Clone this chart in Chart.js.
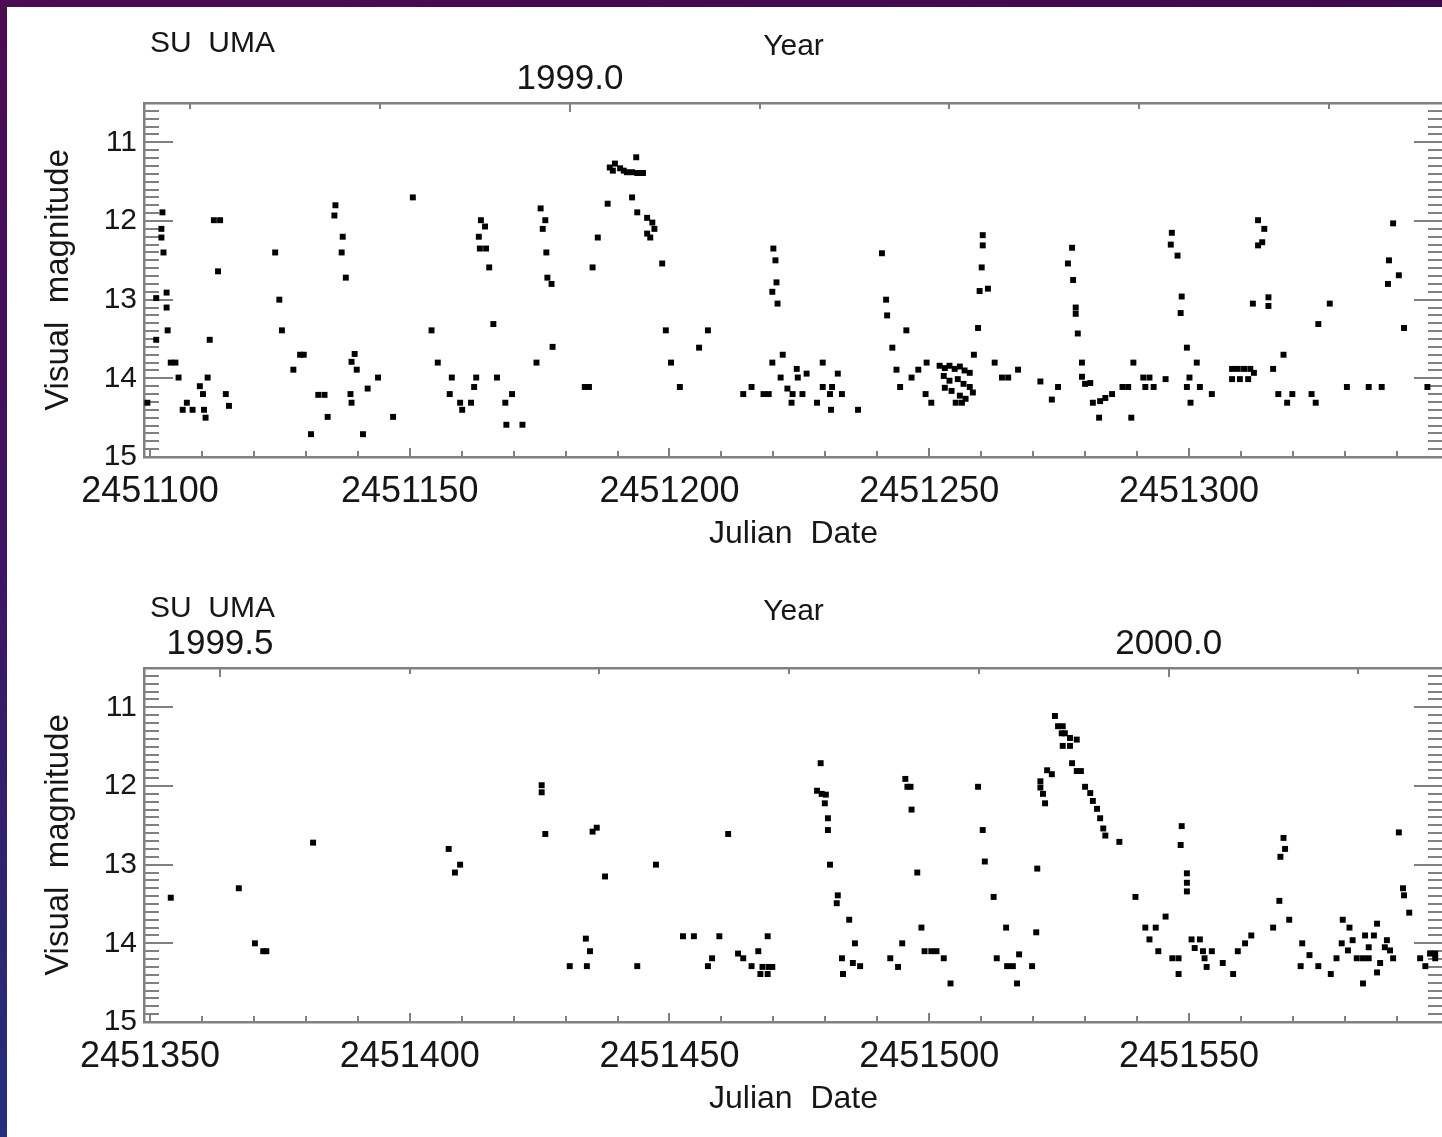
<!DOCTYPE html>
<html>
<head>
<meta charset="utf-8">
<title>SU UMA light curve</title>
<script src="https://cdn.jsdelivr.net/npm/chart.js@4.4.1/dist/chart.umd.min.js"></script>
<style>
  html, body { margin: 0; padding: 0; overflow: hidden; background: #fff; }
  body { width: 1442px; height: 1137px; position: relative; }
  canvas { position: absolute; left: 0; }
  #topPanel { top: 0; }
  #bottomPanel { top: 565px; }
  .band-top { position: absolute; left: 0; top: 0; width: 1442px; height: 7px;
    background: linear-gradient(90deg, #4c0b53, #440b50 60%, #3d0a4d); }
  .band-left { position: absolute; left: 0; top: 0; width: 7px; height: 1137px;
    background: linear-gradient(180deg, #4c0b53, #3d1462 50%, #23307c); }
</style>
</head>
<body>
<canvas id="topPanel" width="1450" height="560"></canvas>
<canvas id="bottomPanel" width="1450" height="560"></canvas>
<div class="band-top"></div>
<div class="band-left"></div>
<script>
/* ===============================
   SU UMA - visual light curve data
================================ */
const starName = "SU  UMA";
const magTicks = [11, 12, 13, 14, 15];
const jdTicksTop = [2451100, 2451150, 2451200, 2451250, 2451300];
const jdTicksBottom = [2451350, 2451400, 2451450, 2451500, 2451550];
const yearTicksTop = [1999.0];
const yearTicksBottom = [1999.5, 2000.0];

// axis ranges
const magRange = [10.5, 15];
const jdRangeTop = [2451098.85, 2451348.9];
const jdRangeBottom = [2451348.85, 2451598.9];
const yearZeroJD = 2451180.85; // JD where the year axis reads 1999.0

// observations: [Julian Date, visual magnitude]
const obsTop = [
  [2451099.5,14.31],[2451101.2,12.98],[2451103.2,12.91],[2451101.2,13.51],[2451102.2,12.10],[2451102.2,12.21],
  [2451102.4,11.89],[2451102.6,12.40],[2451103.2,13.10],[2451103.4,13.39],[2451104.0,13.80],[2451104.9,13.80],
  [2451105.5,13.99],[2451106.3,14.40],[2451107.1,14.31],[2451108.2,14.40],[2451109.6,14.10],[2451110.2,14.20],
  [2451110.4,14.40],[2451110.7,14.50],[2451111.1,13.99],[2451111.5,13.51],[2451112.3,11.99],[2451113.5,11.99],
  [2451113.1,12.64],[2451114.6,14.20],[2451115.2,14.35],
  [2451124.1,12.40],[2451124.9,13.00],[2451125.4,13.39],[2451127.6,13.89],[2451128.9,13.70],[2451129.6,13.70],
  [2451131.0,14.71],[2451132.4,14.21],[2451133.6,14.21],[2451134.2,14.49],[2451135.7,11.80],[2451135.5,11.93],
  [2451137.1,12.20],[2451136.9,12.40],[2451137.7,12.72],[2451138.6,14.20],[2451138.8,14.31],[2451139.4,13.69],
  [2451138.8,13.79],[2451139.8,13.89],[2451141.0,14.71],[2451141.9,14.13],[2451143.9,13.99],[2451146.8,14.49],
  [2451150.6,11.70],[2451154.2,13.39],[2451155.4,13.80],[2451158.1,13.99],[2451157.7,14.20],[2451159.7,14.31],
  [2451160.1,14.40],[2451161.8,14.31],[2451162.8,13.99],[2451162.4,14.11],[2451163.7,11.99],[2451164.5,12.07],
  [2451163.3,12.20],[2451163.5,12.35],[2451164.7,12.35],[2451165.3,12.59],[2451166.1,13.31],[2451166.8,13.99],
  [2451168.4,14.31],[2451169.7,14.20],[2451168.6,14.59],[2451171.7,14.59],
  [2451174.4,13.80],[2451175.2,11.84],[2451176.1,11.99],[2451175.6,12.10],[2451176.3,12.40],[2451176.5,12.72],
  [2451177.3,12.80],[2451177.5,13.60],[2451183.7,14.11],[2451184.5,14.11],[2451185.2,12.59],[2451186.2,12.21],
  [2451188.1,11.78],[2451188.5,11.32],[2451189.1,11.36],[2451189.5,11.27],[2451190.5,11.33],[2451191.2,11.36],
  [2451191.8,11.38],[2451192.8,11.38],[2451193.8,11.39],[2451194.9,11.39],[2451193.6,11.19],[2451192.8,11.70],
  [2451193.8,11.89],[2451195.7,11.96],[2451196.7,12.02],[2451197.1,12.10],[2451196.3,12.21],[2451195.7,12.16],
  [2451198.6,12.54],[2451199.3,13.39],[2451200.3,13.80],[2451202.0,14.11],[2451205.7,13.61],[2451207.4,13.39],
  [2451214.2,14.20],[2451215.8,14.11],[2451218.1,14.20],[2451219.1,14.20],[2451219.8,13.80],[2451220.0,12.35],
  [2451220.4,12.50],[2451220.6,12.78],[2451219.8,12.90],[2451220.8,13.05],[2451221.4,13.99],[2451221.8,13.70],
  [2451222.7,14.13],[2451223.7,14.20],[2451223.5,14.31],[2451224.5,13.88],[2451224.7,13.99],[2451225.6,14.20],
  [2451226.4,13.94],[2451228.4,14.31],[2451229.5,13.80],[2451229.5,14.11],[2451230.9,14.20],[2451231.3,14.11],
  [2451231.1,14.40],[2451232.4,13.94],[2451233.2,14.20],[2451236.3,14.40],
  [2451240.9,12.41],[2451241.7,13.00],[2451241.9,13.20],[2451242.9,13.61],[2451243.7,13.89],[2451244.4,14.11],
  [2451245.6,13.39],[2451246.6,13.99],[2451247.9,13.89],[2451249.5,13.80],[2451249.3,14.20],[2451250.4,14.31],
  [2451252.0,13.84],[2451253.0,13.87],[2451253.9,13.84],[2451254.9,13.88],[2451255.9,13.85],[2451256.8,13.90],
  [2451257.8,13.93],[2451252.8,13.97],[2451253.9,14.03],[2451255.5,14.01],[2451256.6,14.07],[2451253.0,14.12],
  [2451254.3,14.16],[2451257.8,14.11],[2451258.4,14.18],[2451255.9,14.22],[2451257.0,14.26],[2451255.1,14.31],
  [2451256.3,14.31],[2451258.6,13.70],[2451259.4,13.36],[2451260.3,12.18],[2451260.3,12.31],[2451260.1,12.59],
  [2451259.7,12.89],[2451261.3,12.86],[2451262.6,13.80],[2451264.0,13.99],[2451265.2,13.99],[2451267.1,13.89],
  [2451271.4,14.04],[2451274.8,14.11],[2451273.6,14.27],
  [2451277.5,12.34],[2451276.7,12.54],[2451277.7,12.75],[2451278.2,13.10],[2451278.2,13.18],[2451278.6,13.43],
  [2451279.4,13.80],[2451279.4,13.98],[2451280.0,14.07],[2451281.0,14.06],[2451281.5,14.31],[2451282.9,14.29],
  [2451283.9,14.25],[2451285.2,14.20],[2451282.7,14.50],[2451287.2,14.11],[2451288.3,14.11],[2451288.9,14.50],
  [2451289.3,13.80],[2451291.2,13.99],[2451292.4,13.99],[2451291.6,14.11],[2451293.2,14.11],[2451295.5,14.01],
  [2451296.7,12.15],[2451296.5,12.30],[2451297.8,12.44],[2451298.6,12.96],[2451298.4,13.17],[2451299.6,13.61],
  [2451301.5,13.80],[2451300.1,13.99],[2451299.6,14.11],[2451302.1,14.11],[2451300.3,14.31],[2451304.4,14.20],
  [2451308.3,13.88],[2451309.4,13.88],[2451310.6,13.88],[2451311.8,13.88],[2451308.3,14.01],[2451309.8,14.01],
  [2451311.4,14.01],[2451312.5,13.93],[2451312.3,13.05],[2451315.3,12.97],[2451315.3,13.08],[2451313.3,11.99],
  [2451314.5,12.10],[2451314.1,12.27],[2451313.3,12.31],[2451316.2,13.88],[2451318.2,13.70],[2451317.2,14.20],
  [2451318.9,14.31],[2451319.9,14.20],[2451323.6,14.20],[2451324.4,14.31],[2451324.9,13.31],[2451327.1,13.05],
  [2451330.4,14.11],[2451334.6,14.11],[2451337.1,14.11],[2451339.3,12.03],[2451338.5,12.50],[2451340.4,12.69],
  [2451338.3,12.80],[2451341.4,13.36],[2451345.9,14.11]
];

const obsBottom = [
  [2451354.0,13.42],[2451367.1,13.30],[2451370.2,14.00],[2451371.8,14.10],[2451372.4,14.10],[2451381.4,12.72],
  [2451407.5,12.80],[2451409.7,13.00],[2451408.7,13.10],[2451425.4,11.99],[2451425.4,12.08],[2451426.1,12.61],
  [2451430.8,14.29],[2451433.9,13.94],[2451434.7,14.10],[2451434.1,14.29],[2451435.2,12.58],[2451436.0,12.53],
  [2451437.6,13.15],[2451443.8,14.29],[2451447.4,13.00],
  [2451452.6,13.91],[2451454.7,13.91],[2451457.4,14.29],[2451458.2,14.19],[2451459.6,13.91],[2451461.3,12.61],
  [2451463.2,14.13],[2451464.2,14.19],[2451465.8,14.29],[2451467.1,14.10],[2451468.9,13.91],[2451467.9,14.30],
  [2451469.1,14.30],[2451467.5,14.39],[2451468.9,14.39],[2451469.8,14.30],
  [2451479.1,11.71],[2451478.4,12.06],[2451479.3,12.10],[2451480.1,12.11],[2451479.9,12.22],[2451480.5,12.41],
  [2451480.5,12.56],[2451480.9,13.00],[2451482.4,13.39],[2451482.2,13.49],[2451484.6,13.70],[2451485.7,14.00],
  [2451483.2,14.19],[2451485.3,14.25],[2451486.7,14.29],[2451483.4,14.39],
  [2451492.5,14.19],[2451494.0,14.30],[2451494.8,14.00],[2451495.4,11.91],[2451495.8,12.01],[2451496.4,12.01],
  [2451496.6,12.30],[2451497.7,13.10],[2451498.5,13.80],[2451499.1,14.10],[2451500.4,14.10],[2451501.4,14.10],
  [2451502.8,14.19],[2451504.1,14.51],
  [2451509.4,12.01],[2451510.3,12.56],[2451510.7,12.96],[2451512.4,13.41],[2451513.0,14.19],[2451514.8,13.80],
  [2451515.0,14.29],[2451516.1,14.29],[2451517.3,14.14],[2451516.9,14.51],[2451519.8,14.29],[2451520.6,13.86],
  [2451520.8,13.05],
  [2451521.4,11.94],[2451521.4,12.02],[2451521.9,12.10],[2451522.3,12.22],[2451522.7,11.80],[2451523.6,11.85],
  [2451524.2,11.11],[2451524.8,11.24],[2451525.7,11.24],[2451525.5,11.33],[2451526.1,11.33],[2451527.1,11.39],
  [2451528.4,11.41],[2451525.7,11.49],[2451527.1,11.49],[2451527.5,11.71],[2451528.4,11.81],[2451529.2,11.81],
  [2451530.0,12.01],[2451531.0,12.09],[2451531.5,12.19],[2451532.3,12.29],[2451532.9,12.41],[2451533.5,12.54],
  [2451533.9,12.63],[2451536.6,12.71],
  [2451539.7,13.41],[2451541.6,13.80],[2451543.6,13.80],[2451542.4,13.95],[2451544.1,14.10],[2451545.5,13.66],
  [2451546.8,14.19],[2451548.0,14.19],[2451548.0,14.39],[2451548.6,12.51],[2451548.4,12.75],[2451549.6,13.11],
  [2451549.6,13.23],[2451549.6,13.34],[2451550.5,13.95],[2451552.1,13.95],[2451551.1,14.06],[2451552.7,14.10],
  [2451554.4,14.10],[2451553.0,14.19],[2451553.4,14.30],[2451556.5,14.25],[2451558.5,14.39],[2451559.4,14.10],
  [2451560.8,14.00],[2451562.0,13.90],
  [2451566.2,13.80],[2451567.4,13.46],[2451569.3,13.70],[2451568.2,12.66],[2451568.5,12.80],[2451567.6,12.90],
  [2451571.8,14.00],[2451573.2,14.15],[2451571.5,14.29],[2451574.9,14.29],[2451577.3,14.39],[2451578.4,14.19],
  [2451579.6,13.70],[2451580.9,13.80],[2451579.4,14.00],[2451580.6,14.09],[2451581.5,13.96],[2451582.3,14.19],
  [2451583.5,14.19],[2451584.6,14.19],[2451583.9,13.90],[2451585.6,13.90],[2451584.6,14.05],[2451586.2,13.75],
  [2451583.5,14.51],[2451586.2,14.37],[2451586.8,14.25],[2451588.1,13.96],[2451587.7,14.05],[2451588.7,14.09],
  [2451589.3,14.19],[2451590.4,12.59],[2451591.2,13.30],[2451591.4,13.39],[2451592.4,13.61],[2451594.5,14.19],
  [2451595.5,14.29],[2451596.4,14.13],[2451597.4,14.13],[2451597.4,14.19]
];

/* ===============================
   Styling
================================ */
const AXIS_GRAY = "#808080";
const TEXT = "#161616";
const FONT = "'Liberation Sans', Arial, sans-serif";
Chart.defaults.font.family = FONT;
Chart.defaults.color = TEXT;

function toYear(jd) {
  return 1999 + (jd - yearZeroJD) / 365.25;
}

// inward tick marks on all four sides + star name
const insideTicks = {
  id: "insideTicks",
  beforeDatasetsDraw(chart) {
    const { ctx, chartArea: a, scales } = chart;
    const x = scales.x, y = scales.y, yr = scales.year;
    ctx.save();
    ctx.strokeStyle = AXIS_GRAY;
    ctx.lineWidth = 2;
    ctx.beginPath();
    // magnitude: every 0.1, whole magnitudes longer
    for (let k = Math.ceil(y.min * 10); k <= Math.floor(y.max * 10); k++) {
      const py = Math.round(y.getPixelForValue(k / 10));
      const len = k % 10 === 0 ? 29 : 15;
      ctx.moveTo(a.left, py); ctx.lineTo(a.left + len, py);
      ctx.moveTo(a.right, py); ctx.lineTo(a.right - len, py);
    }
    // Julian Date: every 10 days, longer every 50
    for (let d = Math.ceil(x.min / 10) * 10; d <= x.max; d += 10) {
      const px = Math.round(x.getPixelForValue(d));
      const len = d % 50 === 0 ? 9 : 6;
      ctx.moveTo(px, a.bottom); ctx.lineTo(px, a.bottom - len);
    }
    // Year: every 0.1, longer every 0.5
    for (let t = Math.ceil(yr.min * 10); t <= yr.max * 10; t++) {
      const px = Math.round(yr.getPixelForValue(t / 10));
      const len = t % 5 === 0 ? 9 : 6;
      ctx.moveTo(px, a.top); ctx.lineTo(px, a.top + len);
    }
    ctx.stroke();
    ctx.restore();
  },
  afterDraw(chart) {
    const ctx = chart.ctx;
    ctx.save();
    ctx.fillStyle = TEXT;
    ctx.font = "30px " + FONT;
    ctx.textBaseline = "middle";
    ctx.fillText(starName, 150, 43.5);
    ctx.restore();
  }
};

const frameBorder = { display: true, color: AXIS_GRAY, width: 2.5 };
const noGrid = { display: false, drawTicks: false };

function renderPanel(id, obs, jdRange, jdTicks, yearTicks) {
  const ctx = document.getElementById(id);
  if (!ctx) return;

  new Chart(ctx, {
    type: "scatter",
    data: {
      datasets: [
        {
          data: obs.map(([jd, mag]) => ({ x: jd, y: mag })),
          pointStyle: "rect",
          pointRadius: 4.2,
          pointBackgroundColor: "#000",
          pointBorderWidth: 0,
          showLine: false,
        },
      ],
    },
    options: {
      responsive: false,
      animation: false,
      events: [],
      layout: { padding: 0 },
      plugins: {
        legend: { display: false },
        tooltip: { enabled: false },
      },
      scales: {
        x: {
          type: "linear",
          position: "bottom",
          min: jdRange[0],
          max: jdRange[1],
          afterFit: (s) => { s.height = 103; },
          afterBuildTicks: (s) => { s.ticks = jdTicks.map((v) => ({ value: v })); },
          grid: noGrid,
          border: frameBorder,
          ticks: {
            autoSkip: false, maxRotation: 0, padding: 13,
            font: { size: 36 },
            callback: (v) => String(v),
          },
          title: {
            display: true, text: "Julian  Date",
            font: { size: 32 }, padding: { top: 0, bottom: 7 },
          },
        },
        year: {
          type: "linear",
          position: "top",
          min: toYear(jdRange[0]),
          max: toYear(jdRange[1]),
          afterFit: (s) => { s.height = 103; },
          afterBuildTicks: (s) => { s.ticks = yearTicks.map((v) => ({ value: v })); },
          grid: noGrid,
          border: frameBorder,
          ticks: {
            autoSkip: false, maxRotation: 0, padding: 3,
            font: { size: 35 },
            callback: (v) => v.toFixed(1),
          },
          title: {
            display: true, text: "Year",
            font: { size: 30 }, padding: { top: 29, bottom: 0 },
          },
        },
        y: {
          type: "linear",
          position: "left",
          reverse: true,
          min: magRange[0],
          max: magRange[1],
          afterFit: (s) => { s.width = 144; },
          afterBuildTicks: (s) => { s.ticks = magTicks.map((v) => ({ value: v })); },
          grid: noGrid,
          border: frameBorder,
          ticks: {
            padding: 7,
            font: { size: 30 },
            callback: (v) => String(v),
          },
          title: {
            display: true, text: "Visual  magnitude",
            font: { size: 33 }, padding: { top: 39, bottom: 0 },
          },
        },
        y2: {
          type: "linear",
          position: "right",
          reverse: true,
          min: magRange[0],
          max: magRange[1],
          afterFit: (s) => { s.width = 7; },
          grid: noGrid,
          border: frameBorder,
          ticks: { display: false },
        },
      },
    },
    plugins: [insideTicks],
  });
}

/* ===============================
   Init both panels
================================ */
renderPanel("topPanel", obsTop, jdRangeTop, jdTicksTop, yearTicksTop);
renderPanel("bottomPanel", obsBottom, jdRangeBottom, jdTicksBottom, yearTicksBottom);
</script>
</body>
</html>
